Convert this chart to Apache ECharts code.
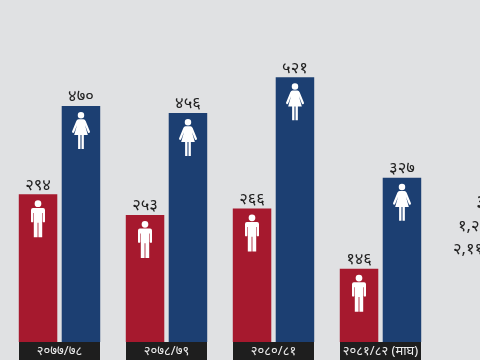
<!DOCTYPE html>
<html>
<head>
<meta charset="utf-8">
<style>
  html, body { margin: 0; padding: 0; background: #e0e1e3; }
  #chart { width: 480px; height: 360px; }
</style>
<script src="https://cdn.jsdelivr.net/npm/echarts@6/dist/echarts.min.js"></script>
</head>
<body>
<div id="chart"></div>
<script>
const years = ['२०७७/७८', '२०७८/७९', '२०८०/८१', '२०८१/८२ (माघ)'];
const maleValues = [294, 253, 266, 146];
const maleLabels = ['२९४', '२५३', '२६६', '१४६'];
// the 521 bar is drawn a little taller than its printed number in the source
const femaleValues = [470, 456, 527, 327];
const femaleLabels = ['४७०', '४५६', '५२१', '३२७'];
const sideTexts = ['३', '१,२९', '२,११२'];

const FONT = '"Noto Sans", "Noto Sans Devanagari", "DejaVu Sans", sans-serif';
const MALE_PATH = 'M50 0a24 24 0 1 1-.01 0zM14 54H86Q100 54 100 68V150Q100 156 92 156T84 150V90H80V264H53V160H47V264H20V90H16V150Q16 156 8 156T0 150V68Q0 54 14 54z';
const FEMALE_PATH = 'M50 0a18 18 0 1 1-.01 0zM36 40H64Q72 40 76 50L100 108Q101 114 95 116T88 112L72 72 88 128H66V205H53V128H47V205H34V128H12L28 72 12 112Q9 118 5 116T0 108L24 50Q28 40 36 40z';

const chart = echarts.init(document.getElementById('chart'));

function barSeries (name, values, labels, color) {
  return {
    name: name,
    type: 'bar',
    barWidth: 38.5,
    barGap: '11.5%',
    data: values,
    itemStyle: { color: color },
    label: {
      show: true,
      position: 'top',
      distance: 1,
      fontFamily: FONT,
      fontSize: 16.5,
      color: '#222',
      formatter: (p) => labels[p.dataIndex]
    }
  };
}

function iconSeries (values, path, size, offsetX) {
  return {
    type: 'scatter',
    data: values,
    symbol: 'path://' + path,
    symbolSize: size,
    symbolKeepAspect: false,
    symbolOffset: [offsetX, 24.5],
    itemStyle: { color: '#fff', opacity: 1 },
    silent: true,
    z: 5
  };
}

chart.setOption({
  animation: false,
  backgroundColor: '#e0e1e3',
  grid: { left: 6, top: 0, width: 428, bottom: 17.5 },
  xAxis: {
    type: 'category',
    data: years,
    axisLine: { show: false },
    axisTick: { show: false },
    axisLabel: {
      margin: 0,
      interval: 0,
      fontFamily: FONT,
      fontSize: 13,
      color: '#eee',
      width: 81,
      height: 18,
      lineHeight: 18,
      align: 'center',
      backgroundColor: '#1e1e1e'
    }
  },
  yAxis: { type: 'value', min: 0, max: 681, show: false },
  graphic: sideTexts.map((t, i) => ({
    type: 'text',
    left: [476, 458, 453][i],
    top: [193, 218, 241][i],
    style: { text: t, fontFamily: FONT, fontSize: [21, 16.5, 16.5][i], fill: '#222' }
  })),
  series: [
    barSeries('male', maleValues, maleLabels, '#a6192e'),
    barSeries('female', femaleValues, femaleLabels, '#1c3f72'),
    iconSeries(maleValues, MALE_PATH, [14, 37], -21.5),
    iconSeries(femaleValues, FEMALE_PATH, [18, 37], 21.5)
  ]
});
</script>
</body>
</html>
